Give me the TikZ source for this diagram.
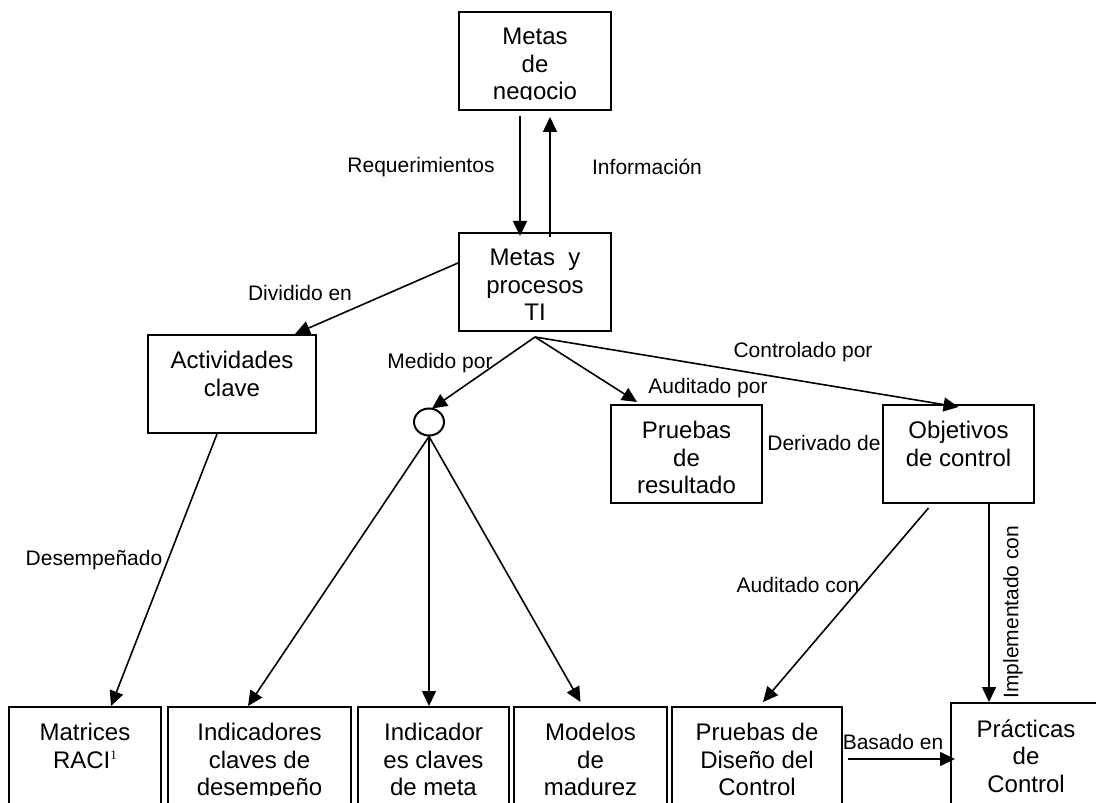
\documentclass[tikz,border=0pt]{standalone}
\usepackage{fontspec}
\setmainfont{Liberation Sans}
\newfontfamily\notefont{Liberation Serif}
\usetikzlibrary{arrows.meta,calc,shapes.geometric}

% text of a box, cut off at the inner margin of its frame
\newcommand\framedtext[2]{%
  \begin{scope}
    \clip (#1.north west) rectangle ([yshift=5.5pt]#1.south east);
    \node[btxt] (t#1) at ([yshift=-8.5pt]#1.north) {#2};
  \end{scope}}

\begin{document}
\begin{tikzpicture}[x=0.5pt,y=-0.5pt,
  bx/.style={draw, line width=1pt, inner sep=0pt, minimum height=49pt},
  btxt/.style={font=\fontsize{12pt}{13.75pt}\selectfont, align=center, inner sep=0pt, anchor=north},
  lbl/.style={font=\fontsize{10.5pt}{12pt}\selectfont, inner sep=0pt},
  arr/.style={line width=0.8pt, -{Triangle[length=7.5pt,width=7pt]}}]

% page area
\clip (0,0) rectangle (1096,802);

% boxes
\node[bx, minimum width=76pt] (top) at (535,61) {};
\node[bx, minimum width=76pt] (mid) at (535,282) {};
\node[bx, minimum width=84pt] (act) at (232,384) {};
\node[bx, minimum width=75.5pt] (prr) at (686.5,454) {};
\node[bx, minimum width=75.5pt] (obj) at (958.5,454) {};
\node[draw, line width=1pt, ellipse, minimum width=15pt, minimum height=13.5pt, inner sep=0pt] (circ) at (429,422) {};
\node[bx, minimum width=76pt] (mat) at (85,756) {};
\node[bx, minimum width=91.5pt] (ind) at (259.5,756) {};
\node[bx, minimum width=75.5pt] (ime) at (433.5,756) {};
\node[bx, minimum width=76.5pt] (mod) at (590.5,756) {};
\node[bx, minimum width=85pt] (pdc) at (757,756) {};
\node[bx, minimum width=75pt, minimum height=54pt] (pra) at (1026,757) {};

% box texts
\framedtext{top}{Metas\\de\\negocio}
\node[btxt] (tmid) at ([yshift=-8.5pt]mid.north) {Metas~~y\\procesos\\TI};
\framedtext{act}{Actividades\\clave}
\framedtext{prr}{Pruebas\\de\\resultado}
\framedtext{obj}{Objetivos\\de control}
\framedtext{mat}{Matrices\\RACI\raisebox{4.5pt}{\notefont\fontsize{6.5pt}{6.5pt}\selectfont 1}}
\framedtext{ind}{Indicadores\\claves de\\desempeño}
\framedtext{ime}{Indicador\\es claves\\de meta}
\framedtext{mod}{Modelos\\de\\madurez}
\framedtext{pdc}{Pruebas de\\Diseño del\\Control}
\framedtext{pra}{Prácticas\\de\\Control}

% connectors
\coordinate (fan) at ([yshift=-2.5pt]mid.south);
\draw[arr] ([xshift=-7.5pt,yshift=-2.5pt]top.south) -- ([xshift=-7.5pt,yshift=-2pt]mid.north);
\draw[arr] ([xshift=7.5pt,yshift=-2.5pt]mid.north) -- ([xshift=7.5pt,yshift=-3pt]top.south);
\draw[arr] ([yshift=9.5pt]mid.west) -- ([xshift=31.5pt]act.north);
\draw[arr] (fan) -- ([xshift=1.5pt,yshift=-0.5pt]circ.north);
\draw[arr] (fan) -- ([xshift=13.5pt,yshift=1pt]prr.north west);
\draw[arr] (fan) -- ([yshift=-1.5pt]obj.north);
\draw[arr] ([xshift=-7.5pt]act.south) -- ([xshift=13pt]mat.north);
\draw[arr] (circ.south) -- ([xshift=-5.75pt]ind.north);
\draw[arr] (circ.south) -- (circ.south |- ime.north);
\draw[arr] (circ.south) -- ([xshift=-5pt,yshift=2pt]mod.north);
\draw[arr] ([xshift=-15pt,yshift=-2pt]obj.south) -- ([xshift=3pt,yshift=2pt]pdc.north);
\draw[arr] ([xshift=15.25pt]obj.south) -- ([xshift=15.25pt]obj.south |- pra.north);
\draw[arr] ([xshift=2.5pt,yshift=-1.5pt]pdc.east) -- ([xshift=2.5pt,yshift=-1.5pt]pdc.east -| pra.west);

% connector labels
\node[lbl] (l1) at (421,167) {Requerimientos};
\node[lbl] (l2) at (647,167) {Información};
\node[lbl] (l3) at (300,293) {Dividido en};
\node[lbl] (l4) at (440,363) {Medido por};
\node[lbl] (l5) at (708,388) {Auditado por};
\node[lbl] (l6) at (803,352) {Controlado por};
\node[lbl] (l7) at (824,443) {Derivado de};
\node[lbl] (l8) at (94,560) {Desempeñado};
\node[lbl] (l9) at (798,585) {Auditado con};
\node[lbl, rotate=90] (l10) at (1013,612) {Implementado con};
\node[lbl] (l11) at (893,742) {Basado en};
\end{tikzpicture}
\end{document}
